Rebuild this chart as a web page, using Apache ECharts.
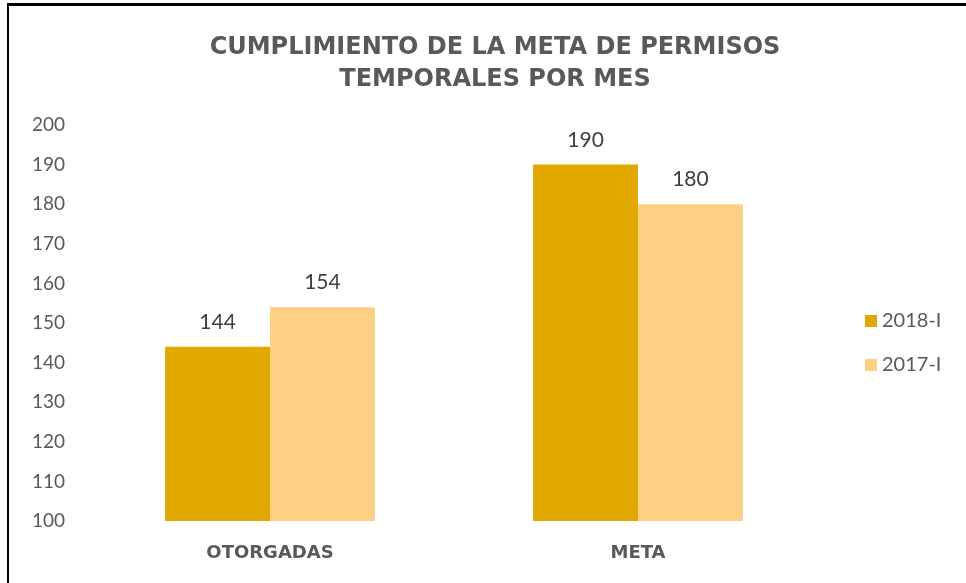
<!DOCTYPE html>
<html>
<head>
<meta charset="utf-8">
<script src="https://cdn.jsdelivr.net/npm/echarts@6/dist/echarts.min.js"></script>
<style>
  html, body { margin: 0; padding: 0; background: #fff; }
  #frame { position: absolute; left: 7px; top: 3px; width: 959px; height: 580px;
           border-top: 3px solid #000; border-left: 2px solid #000; box-sizing: border-box; }
  #chart { position: absolute; left: 0; top: 0; width: 966px; height: 583px; }
</style>
</head>
<body>
<div id="frame"></div>
<div id="chart"></div>
<script>
/* ---------- data ---------- */
const categories = ["OTORGADAS", "META"];
const seriesNames = ["2018-I", "2017-I"];
const values2018 = [144, 190];
const values2017 = [154, 180];
const colors = ["#E1A900", "#FFD084"];

const chart = echarts.init(document.getElementById("chart"));

const labelStyle = {
  show: true,
  position: "top",
  distance: 14,
  fontFamily: "Lato, 'Open Sans', sans-serif",
  fontSize: 21,
  color: "#404040",
};

const option = {
  title: {
    text: "CUMPLIMIENTO DE LA META DE PERMISOS\nTEMPORALES POR MES",
    left: 490,
    top: 27,
    textAlign: "center",
    textStyle: {
      fontFamily: "'DejaVu Sans', Verdana, sans-serif",
      fontWeight: "bold",
      fontSize: 24,
      lineHeight: 32,
      color: "#595959",
    },
  },
  legend: {
    orient: "vertical",
    left: 860,
    top: 306,
    itemWidth: 12,
    itemHeight: 12,
    itemGap: 24,
    icon: "rect",
    textStyle: {
      fontFamily: "Lato, 'Open Sans', sans-serif",
      fontSize: 20,
      color: "#595959",
    },
    data: seriesNames,
  },
  grid: { left: 86, right: 144, top: 125, bottom: 62 },
  xAxis: {
    type: "category",
    data: categories,
    axisLine: { show: false },
    axisTick: { show: false },
    axisLabel: {
      margin: 23,
      fontFamily: "'DejaVu Sans', Verdana, sans-serif",
      fontWeight: "bold",
      fontSize: 18,
      color: "#595959",
    },
  },
  yAxis: {
    type: "value",
    min: 100,
    max: 200,
    interval: 10,
    axisLine: { show: false },
    axisTick: { show: false },
    splitLine: { show: false },
    axisLabel: {
      margin: 21,
      fontFamily: "Lato, 'Open Sans', sans-serif",
      fontSize: 19,
      color: "#595959",
    },
  },
  series: [
    {
      name: seriesNames[0],
      type: "bar",
      data: values2018,
      barGap: "0%",
      barCategoryGap: "43%",
      itemStyle: { color: colors[0] },
      label: labelStyle,
    },
    {
      name: seriesNames[1],
      type: "bar",
      data: values2017,
      barGap: "0%",
      barCategoryGap: "43%",
      itemStyle: { color: colors[1] },
      label: labelStyle,
    },
  ],
};

chart.setOption(option);
</script>
</body>
</html>
